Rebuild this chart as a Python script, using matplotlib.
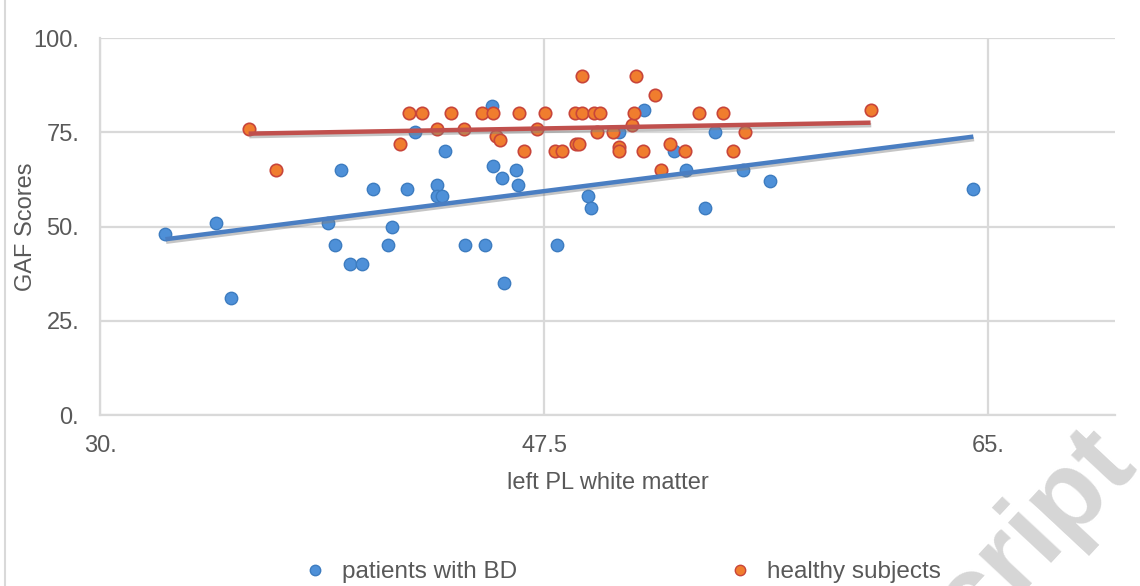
import matplotlib
matplotlib.use("Agg")
import matplotlib.pyplot as plt
import matplotlib.patheffects as pe
from matplotlib.lines import Line2D
from matplotlib.ticker import FixedLocator, FuncFormatter
import numpy as np

plt.rcParams["font.family"] = ["Liberation Sans", "DejaVu Sans"]

# ── data ─────────────────────────────────────────────────────────────────────
bd_x = [32.58, 34.56, 35.15, 38.98, 39.49, 39.27, 39.86, 40.31, 40.76, 41.51,
        41.35, 42.10, 42.43, 43.27, 43.27, 43.47, 43.59, 44.38, 45.18, 45.44,
        45.50, 45.83, 45.94, 46.40, 46.48, 48.02, 49.23, 49.37, 50.47, 51.46,
        52.63, 53.10, 53.85, 54.22, 55.33, 56.39, 64.42]
bd_y = [48, 51, 31, 51, 65, 45, 40, 40, 60, 50,
        45, 60, 75, 61, 58, 58, 70, 45, 45, 82,
        66, 63, 35, 65, 61, 45, 58, 55, 75, 81,
        70, 65, 55, 75, 65, 62, 60]

hs_x = [35.86, 36.92, 42.19, 42.68, 41.84, 43.30, 43.85, 44.35, 45.07, 45.50,
        45.62, 45.77, 46.52, 46.71, 47.24, 47.52, 47.95, 48.19, 48.74, 49.00,
        48.78, 48.87, 49.00, 49.47, 49.69, 49.60, 50.21, 50.47, 50.47, 50.97,
        51.06, 51.13, 51.40, 51.89, 52.11, 52.45, 53.06, 53.61, 54.57, 54.93,
        55.43, 60.37]
hs_y = [76, 65, 80, 80, 72, 76, 80, 76, 80, 80,
        74, 73, 80, 70, 76, 80, 70, 70, 80, 80,
        72, 72, 90, 80, 80, 75, 75, 71, 70, 77,
        80, 90, 70, 85, 65, 72, 70, 80, 80, 70,
        75, 81]

x_ticks = [30, 47.5, 65]
y_ticks = [0, 25, 50, 75, 100]

GRID = "#D9D9D9"
TXT = "#595959"
BLUE, BLUE_EDGE, BLUE_LINE = "#4E90D8", "#3D7CC0", "#4A7EC2"
ORANGE, ORANGE_EDGE, RED_LINE = "#F07D2E", "#C8453A", "#C0504D"
FS = 17


def excel_num(v, _pos=None):
    # Excel-style "0.#" format: 30 -> "30.", 47.5 -> "47.5"
    return f"{v:g}" if v != int(v) else f"{int(v)}."


fig = plt.figure(figsize=(11.4, 5.86), dpi=100)
ax = fig.add_axes([0.0877, 0.2918, 0.8903, 0.6432])

ax.set_xlim(30, 70)
ax.set_ylim(0, 100)
ax.xaxis.set_major_locator(FixedLocator(x_ticks))
ax.yaxis.set_major_locator(FixedLocator(y_ticks))
ax.xaxis.set_major_formatter(FuncFormatter(excel_num))
ax.yaxis.set_major_formatter(FuncFormatter(excel_num))
ax.tick_params(length=0, labelsize=FS, labelcolor=TXT)
ax.tick_params(axis="x", pad=14.5)
ax.tick_params(axis="y", pad=15)
ax.grid(color=GRID, linewidth=1.6, zorder=0)
ax.set_axisbelow(True)
for side in ("top", "right"):
    ax.spines[side].set_visible(False)
for side in ("left", "bottom"):
    ax.spines[side].set_color(GRID)
    ax.spines[side].set_linewidth(1.6)

ax.set_xlabel("left PL white matter", fontsize=FS, color=TXT, labelpad=10.5)
ax.set_ylabel("GAF Scores", fontsize=FS, color=TXT, labelpad=-2.5)

# ── scatter ──────────────────────────────────────────────────────────────────
ax.scatter(bd_x, bd_y, s=80, color=BLUE, edgecolor=BLUE_EDGE, linewidth=1.0,
           zorder=3, label="patients with BD")
ax.scatter(hs_x, hs_y, s=80, color=ORANGE, edgecolor=ORANGE_EDGE, linewidth=1.2,
           zorder=3, label="healthy subjects")

# ── linear trend lines with soft shadow ──────────────────────────────────────
shadow = [pe.SimpleLineShadow(offset=(0.5, -1.8), shadow_color="#808080", alpha=0.45),
          pe.Normal()]
for xs, ys, col in ((bd_x, bd_y, BLUE_LINE), (hs_x, hs_y, RED_LINE)):
    k, b = np.polyfit(xs, ys, 1)
    xx = np.array([min(xs), max(xs)])
    ax.plot(xx, k * xx + b, color=col, linewidth=3.2, solid_capstyle="butt",
            zorder=4, path_effects=shadow)

# ── legend ───────────────────────────────────────────────────────────────────
handles = [
    Line2D([], [], marker="o", linestyle="", markersize=7.5, markerfacecolor=BLUE,
           markeredgecolor=BLUE_EDGE, label="patients with BD"),
    Line2D([], [], marker="o", linestyle="", markersize=7.5, markerfacecolor=ORANGE,
           markeredgecolor=ORANGE_EDGE, label="healthy subjects"),
]
leg = fig.legend(handles=handles, loc="center", bbox_to_anchor=(0.5455, 0.0235),
                 ncol=2, frameon=False, fontsize=17.5, columnspacing=8.7,
                 handletextpad=0.6, handlelength=1.0, borderpad=0)
for t in leg.get_texts():
    t.set_color(TXT)

# chart-area border on the left edge
fig.add_artist(Line2D([0.004, 0.004], [0, 1], transform=fig.transFigure,
                      color=GRID, linewidth=1.5))

# watermark, mostly cut off by the figure edge
fig.text(0.999, 0.2, "Accepted Manuscript", transform=fig.transFigure,
         fontsize=80, fontweight="bold", color="#D6D6D6", rotation=47,
         rotation_mode="anchor", ha="right", va="baseline", zorder=0)

fig.savefig("out.png", dpi=100)
